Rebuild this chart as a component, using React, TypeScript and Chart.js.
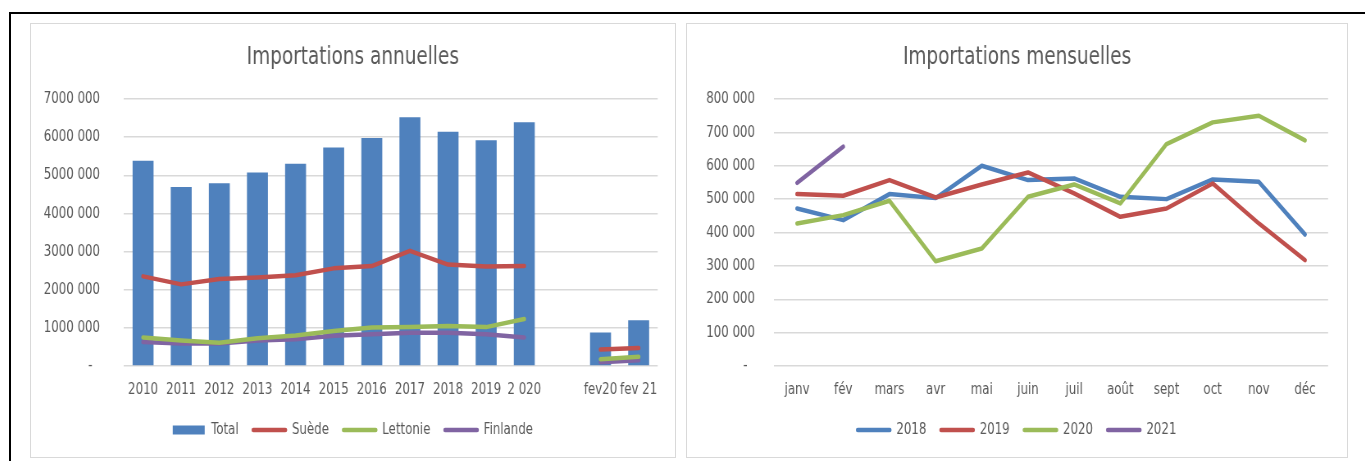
import React, { useEffect, useRef } from "react";
import { Chart, registerables } from "chart.js";

Chart.register(...registerables);

// ---------- data ----------
const yearLabels = ["2010", "2011", "2012", "2013", "2014", "2015", "2016", "2017", "2018", "2019", "2 020", "", "fev20", "fev 21"];
const totalValues = [5380000, 4690000, 4790000, 5070000, 5300000, 5730000, 5980000, 6520000, 6140000, 5920000, 6390000, null, 880000, 1200000];
const suedeValues = [2350000, 2140000, 2280000, 2320000, 2380000, 2560000, 2620000, 3020000, 2660000, 2610000, 2620000, null, 430000, 470000];
const lettonieValues = [750000, 670000, 610000, 730000, 800000, 920000, 1010000, 1020000, 1050000, 1020000, 1230000, null, 180000, 240000];
const finlandeValues = [630000, 590000, 590000, 670000, 700000, 790000, 830000, 870000, 870000, 830000, 750000, null, 100000, 150000];
const leftYTickLabels = ["-  ", "1000 000", "2000 000", "3000 000", "4000 000", "5000 000", "6000 000", "7000 000"];

const monthLabels = ["janv", "fév", "mars", "avr", "mai", "juin", "juil", "août", "sept", "oct", "nov", "déc"];
const values2018 = [472000, 437000, 515000, 503000, 600000, 557000, 562000, 507000, 500000, 559000, 552000, 394000];
const values2019 = [515000, 510000, 557000, 505000, 544000, 580000, 517000, 447000, 472000, 547000, 427000, 317000];
const values2020 = [427000, 452000, 495000, 314000, 352000, 507000, 544000, 487000, 665000, 730000, 750000, 676000];
const values2021 = [549000, 657000, null, null, null, null, null, null, null, null, null, null];
const rightYTickLabels = ["-  ", "100 000", "200 000", "300 000", "400 000", "500 000", "600 000", "700 000", "800 000"];

// ---------- styles ----------
const FONT = "'DejaVu Sans Condensed', 'Liberation Sans Narrow', sans-serif";
const TEXT = "#595959";
const GRID = "#d9d9d9";
const BLUE = "#4f81bd";
const RED = "#c0504d";
const GREEN = "#9bbb59";
const PURPLE = "#8064a2";
const LW = 4.5;
const SX = 0.82; // horizontal squeeze of the whole picture
const PANEL_H = 433;

function lineDs(label: string, data: (number | null)[], color: string, order: number) {
  return {
    type: "line" as const,
    label,
    data,
    borderColor: color,
    backgroundColor: color,
    borderWidth: LW,
    pointRadius: 0,
    pointHoverRadius: 0,
    tension: 0,
    borderCapStyle: "round" as const,
    borderJoinStyle: "round" as const,
    spanGaps: false,
    order,
  };
}

// yArea: distance from panel inner left to plot left; sidePad: distance from plot right to panel inner right
function baseOptions(title: string, yMax: number, yStep: number, yLabels: string[], yArea: number, yPad: number, sidePad: number) {
  return {
    animation: false,
    responsive: false,
    maintainAspectRatio: false,
    devicePixelRatio: 1,
    layout: { padding: { left: 0, right: 0, top: 0, bottom: 9 } },
    plugins: {
      title: {
        display: true,
        text: title,
        color: TEXT,
        font: { family: FONT, size: 25, weight: "normal" },
        padding: { top: 18, bottom: 27 },
      },
      tooltip: { enabled: false },
      legend: {
        display: true,
        position: "bottom",
        labels: {
          color: TEXT,
          font: { family: FONT, size: 16 },
          usePointStyle: true,
          pointStyleWidth: 32 / SX,
          boxHeight: 9,
          padding: 18,
          sort: (a: any, b: any) => a.datasetIndex - b.datasetIndex,
          generateLabels: (chart: any) => {
            const items = Chart.defaults.plugins.legend.labels.generateLabels(chart);
            return items.map((it: any) => {
              const ds = chart.data.datasets[it.datasetIndex];
              const isBar = ds.type === "bar";
              return {
                ...it,
                pointStyle: isBar ? "rect" : "line",
                lineWidth: isBar ? 0 : LW,
                lineCap: "round",
                strokeStyle: ds.borderColor,
                fillStyle: ds.backgroundColor,
              };
            });
          },
        },
      },
    },
    scales: {
      x: {
        offset: true,
        grid: { display: false, drawTicks: false },
        border: { display: false },
        ticks: { color: TEXT, font: { family: FONT, size: 16 }, padding: 14, maxRotation: 0, autoSkip: false },
        afterFit: (axis: any) => { axis.height = 38; },
      },
      y: {
        min: 0,
        max: yMax,
        grid: { color: GRID, lineWidth: 1.5, drawTicks: false },
        border: { display: false },
        ticks: {
          stepSize: yStep,
          color: TEXT,
          font: { family: FONT, size: 16 },
          padding: yPad / SX,
          callback: (_v: any, i: number) => yLabels[i],
        },
        afterFit: (axis: any) => { axis.width = yArea / SX; },
      },
      // empty right-hand spacer axis so the title and legend stay centred on the panel
      yRight: {
        type: "linear",
        position: "right",
        display: true,
        grid: { display: false, drawTicks: false },
        border: { display: false },
        ticks: { display: false },
        afterFit: (axis: any) => { axis.width = sidePad / SX; },
      },
    },
  };
}

function ChartCanvas({ config, width }: { config: () => any; width: number }) {
  const ref = useRef<HTMLCanvasElement | null>(null);
  const cw = Math.round(width / SX);
  useEffect(() => {
    if (!ref.current) return;
    const chart = new Chart(ref.current, config());
    return () => chart.destroy();
  }, []);
  return (
    <canvas
      ref={ref}
      width={cw}
      height={PANEL_H}
      style={{ display: "block", width: cw, height: PANEL_H, transform: `scaleX(${SX})`, transformOrigin: "0 0" }}
    />
  );
}

const leftConfig = () => ({
  type: "bar",
  data: {
    labels: yearLabels,
    datasets: [
      {
        type: "bar",
        label: "Total",
        data: totalValues,
        backgroundColor: BLUE,
        borderColor: BLUE,
        borderWidth: 0,
        barPercentage: 0.55,
        categoryPercentage: 1,
        order: 10,
      },
      lineDs("Suède", suedeValues, RED, 1),
      lineDs("Lettonie", lettonieValues, GREEN, 2),
      lineDs("Finlande", finlandeValues, PURPLE, 3),
    ],
  },
  options: baseOptions("Importations annuelles", 7000000, 1000000, leftYTickLabels, 93, 24, 17),
});

const rightConfig = () => ({
  type: "line",
  data: {
    labels: monthLabels,
    datasets: [
      lineDs("2018", values2018, BLUE, 4),
      lineDs("2019", values2019, RED, 3),
      lineDs("2020", values2020, GREEN, 2),
      lineDs("2021", values2021, PURPLE, 1),
    ],
  },
  options: baseOptions("Importations mensuelles", 800000, 100000, rightYTickLabels, 87, 19, 19),
});

export default function App() {
  const panel = (left: number, width: number): React.CSSProperties => ({
    position: "absolute",
    left,
    top: 23,
    width,
    height: PANEL_H,
    border: "1px solid #d9d9d9",
    background: "#fff",
    overflow: "hidden",
  });
  return (
    <div style={{ position: "fixed", left: 0, top: 0, width: 1365, height: 461, overflow: "hidden", background: "#fff" }}>
      <div style={{ position: "absolute", left: 9, top: 12, width: 1400, height: 520, border: "2px solid #000", boxSizing: "border-box" }} />
      <div style={panel(30, 644)}>
        <ChartCanvas config={leftConfig} width={644} />
      </div>
      <div style={panel(686, 660)}>
        <ChartCanvas config={rightConfig} width={660} />
      </div>
    </div>
  );
}
